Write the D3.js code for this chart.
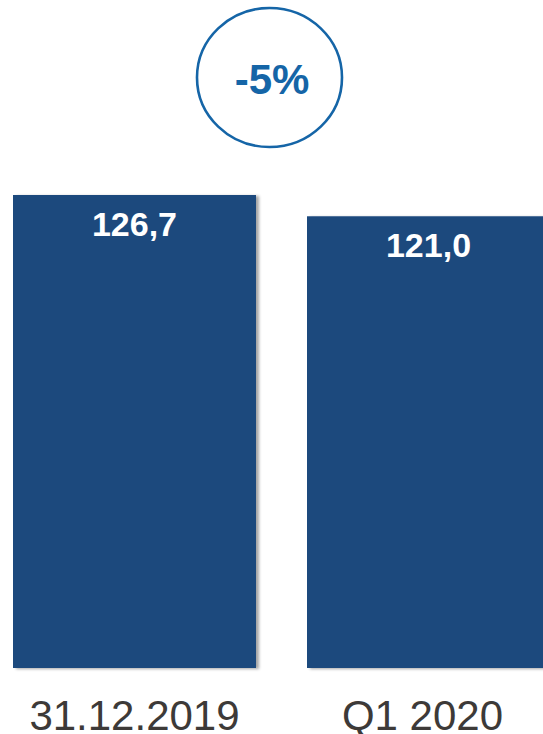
<!DOCTYPE html>
<html>
<head>
<meta charset="utf-8">
<script src="https://cdn.jsdelivr.net/npm/d3@7"></script>
<style>
  body { margin: 0; background: #fff; }
  svg { display: block; font-family: "Liberation Sans", Arial, sans-serif; }
</style>
</head>
<body>
<div id="chart"></div>
<script>
// data
var categories = ["31.12.2019", "Q1 2020"];
var values = [126.7, 121.0];
var valueLabels = ["126,7", "121,0"];
var changeLabel = "-5%";

var width = 543, height = 734;

var svg = d3.select("#chart").append("svg")
    .attr("width", width)
    .attr("height", height);

// soft shadow to the right/bottom of the bars
var defs = svg.append("defs");
var filter = defs.append("filter")
    .attr("id", "shadow")
    .attr("x", "-5%").attr("y", "-5%")
    .attr("width", "115%").attr("height", "115%");
filter.append("feDropShadow")
    .attr("dx", 3).attr("dy", 1)
    .attr("stdDeviation", 1.8)
    .attr("flood-color", "#000")
    .attr("flood-opacity", 0.35);

// scales
var x = d3.scaleBand()
    .domain(categories)
    .range([13, 550])
    .paddingInner(0.1735)
    .paddingOuter(0);

var y = d3.scaleLinear()
    .domain([0, 126.7])
    .range([668, 195]);

// bars
svg.selectAll("rect.bar")
    .data(values)
    .enter()
    .append("rect")
    .attr("class", "bar")
    .attr("x", function(d, i) { return x(categories[i]); })
    .attr("y", function(d) { return y(d); })
    .attr("width", x.bandwidth())
    .attr("height", function(d) { return y(0) - y(d); })
    .attr("fill", "#1f497d")
    .attr("filter", "url(#shadow)");

// value labels inside the bars
svg.selectAll("text.value")
    .data(values)
    .enter()
    .append("text")
    .attr("class", "value")
    .attr("x", function(d, i) { return x(categories[i]) + x.bandwidth() / 2; })
    .attr("y", function(d) { return y(d) + 41; })
    .attr("text-anchor", "middle")
    .attr("fill", "#ffffff")
    .style("font-size", "34px")
    .style("font-weight", "bold")
    .text(function(d, i) { return valueLabels[i]; });

// category labels
svg.selectAll("text.cat")
    .data(categories)
    .enter()
    .append("text")
    .attr("class", "cat")
    .attr("x", function(d) { return x(d) + x.bandwidth() / 2 - (d == "Q1 2020" ? 6 : 0); })
    .attr("y", 730)
    .attr("text-anchor", "middle")
    .attr("fill", "#3d3a38")
    .style("font-size", "42px")
    .text(function(d) { return d; });

// change bubble
svg.append("ellipse")
    .attr("cx", 269.5)
    .attr("cy", 77.5)
    .attr("rx", 72.5)
    .attr("ry", 69.5)
    .attr("fill", "#fff")
    .attr("stroke", "#1565a7")
    .attr("stroke-width", 2.6);

svg.append("text")
    .attr("x", 272)
    .attr("y", 94)
    .attr("text-anchor", "middle")
    .attr("fill", "#1565a7")
    .style("font-size", "42px")
    .style("font-weight", "bold")
    .text(changeLabel);
</script>
</body>
</html>
